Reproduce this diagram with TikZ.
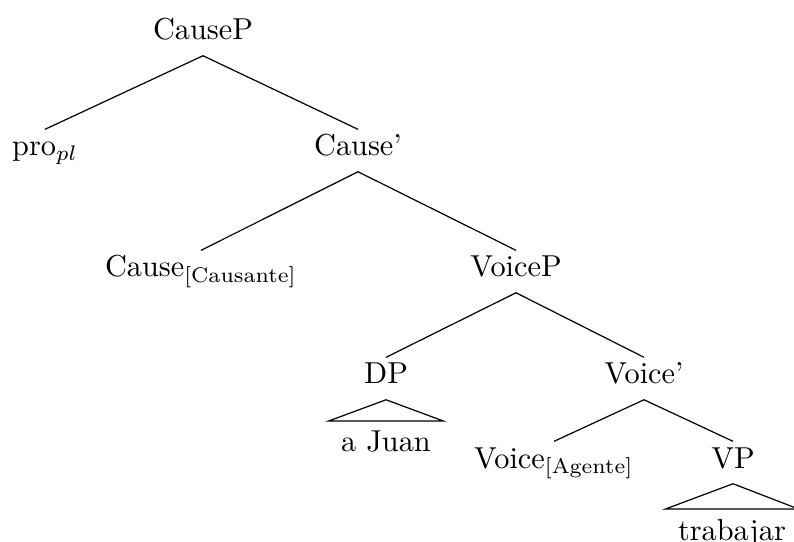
\documentclass[tikz,border=0pt]{standalone}
\begin{document}
\begin{tikzpicture}[x=0.33pt,y=-0.33pt,
  lbl/.style={anchor=base,inner xsep=0pt,inner ysep=1pt,text height=7.6pt,text depth=4pt},
  leaf/.style={anchor=base,inner xsep=4pt,inner ysep=3pt,text height=7pt,text depth=2pt},
  branch/.style={line width=0.4pt}]
\useasboundingbox (0,0) rectangle (794,542);
\node[lbl] (causep) at (203,40) {CauseP};
\node[lbl] (pro) at (45,156) {pro$_{pl}$};
\node[lbl] (causebar) at (358,156) {Cause'};
\node[lbl] (cause) at (201,277) {Cause\textsubscript{[Causante]}};
\node[lbl] (voicep) at (516,277) {VoiceP};
\node[lbl] (dp) at (386,384) {DP};
\node[lbl] (voicebar) at (644,384) {Voice'};
\node[leaf] (juan) at (386,452) {a Juan};
\node[lbl] (voice) at (554,468) {Voice\textsubscript{[Agente]}};
\node[lbl] (vp) at (733,468) {VP};
\node[leaf] (trab) at (732,540) {trabajar};
\draw[branch] (pro.north) -- (causep.south) -- (causebar.north);
\draw[branch] (cause.north) -- (causebar.south) -- (voicep.north);
\draw[branch] (dp.north) -- (voicep.south) -- (voicebar.north);
\draw[branch] (voice.north) -- (voicebar.south) -- (vp.north);
\draw[branch] (juan.north west) -- (dp.south) -- (juan.north east) -- cycle;
\draw[branch] (trab.north west) -- (vp.south) -- (trab.north east) -- cycle;
\end{tikzpicture}
\end{document}
